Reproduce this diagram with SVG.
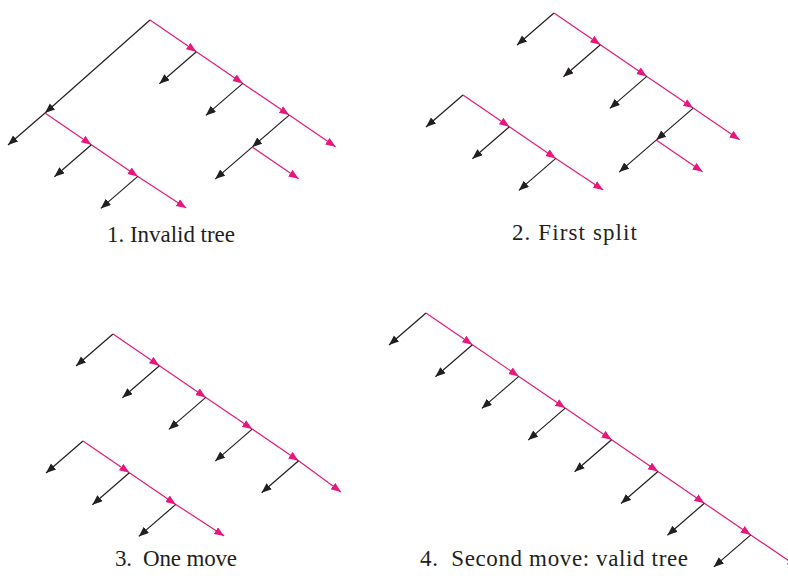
<svg xmlns="http://www.w3.org/2000/svg" width="788" height="576" viewBox="0 0 788 576">
<defs>
<marker id="ak" markerUnits="userSpaceOnUse" markerWidth="12" markerHeight="10" refX="10" refY="4" orient="auto"><path d="M0,0 L10,4 L0,8 z" fill="#231F20"/></marker>
<marker id="ap" markerUnits="userSpaceOnUse" markerWidth="12" markerHeight="10" refX="10" refY="4" orient="auto"><path d="M0,0 L10,4 L0,8 z" fill="#E8177D"/></marker>
<style>
.k{stroke:#231F20;stroke-width:1.2;fill:none;marker-end:url(#ak)}
.p{stroke:#E8177D;stroke-width:1.2;fill:none;marker-end:url(#ap)}
.lbl{font-family:"Liberation Serif","Times New Roman",serif;font-size:23px;fill:#231F20;white-space:pre}
</style>
</defs>
<rect width="788" height="576" fill="#fff"/>
<g id="connectors">
<g id="panel1">
<line class="k" x1="150" y1="20" x2="45" y2="113"/>
<line class="p" x1="150" y1="20" x2="196.4" y2="51.7"/>
<line class="p" x1="196.4" y1="51.7" x2="242.8" y2="83.4"/>
<line class="p" x1="242.8" y1="83.4" x2="289.2" y2="115.1"/>
<line class="p" x1="289.2" y1="115.1" x2="335.6" y2="146.8"/>
<line class="k" x1="196.4" y1="51.7" x2="159.4" y2="83.7"/>
<line class="k" x1="242.8" y1="83.4" x2="205.8" y2="115.4"/>
<line class="k" x1="289.2" y1="115.1" x2="252.2" y2="147.1"/>
<line class="k" x1="252.2" y1="147.1" x2="215.2" y2="179.1"/>
<line class="p" x1="252.2" y1="147.1" x2="298.6" y2="178.8"/>
<line class="k" x1="45" y1="113" x2="8" y2="145"/>
<line class="p" x1="45" y1="113" x2="91.4" y2="144.7"/>
<line class="p" x1="91.4" y1="144.7" x2="137.8" y2="176.4"/>
<line class="p" x1="137.8" y1="176.4" x2="186.2" y2="208.1"/>
<line class="k" x1="91.4" y1="144.7" x2="54.4" y2="176.7"/>
<line class="k" x1="137.8" y1="176.4" x2="100.8" y2="208.4"/>
</g>
<g id="panel2">
<line class="k" x1="554" y1="13" x2="517" y2="45"/>
<line class="p" x1="554" y1="13" x2="600.4" y2="44.7"/>
<line class="p" x1="600.4" y1="44.7" x2="646.8" y2="76.4"/>
<line class="p" x1="646.8" y1="76.4" x2="693.2" y2="108.1"/>
<line class="p" x1="693.2" y1="108.1" x2="739.6" y2="139.8"/>
<line class="k" x1="600.4" y1="44.7" x2="563.4" y2="76.7"/>
<line class="k" x1="646.8" y1="76.4" x2="609.8" y2="108.4"/>
<line class="k" x1="693.2" y1="108.1" x2="656.2" y2="140.1"/>
<line class="k" x1="656.2" y1="140.1" x2="619.2" y2="172.1"/>
<line class="p" x1="656.2" y1="140.1" x2="702.6" y2="171.8"/>
<line class="k" x1="463" y1="95" x2="426" y2="127"/>
<line class="p" x1="463" y1="95" x2="509.4" y2="126.7"/>
<line class="p" x1="509.4" y1="126.7" x2="555.8" y2="158.4"/>
<line class="p" x1="555.8" y1="158.4" x2="603.2" y2="190.1"/>
<line class="k" x1="509.4" y1="126.7" x2="472.4" y2="158.7"/>
<line class="k" x1="555.8" y1="158.4" x2="518.8" y2="190.4"/>
</g>
<g id="panel3">
<line class="k" x1="113" y1="334" x2="76" y2="366"/>
<line class="p" x1="113" y1="334" x2="159.4" y2="365.7"/>
<line class="p" x1="159.4" y1="365.7" x2="205.8" y2="397.4"/>
<line class="p" x1="205.8" y1="397.4" x2="252.2" y2="429.1"/>
<line class="p" x1="252.2" y1="429.1" x2="298.6" y2="460.8"/>
<line class="p" x1="298.6" y1="460.8" x2="341" y2="492"/>
<line class="k" x1="159.4" y1="365.7" x2="122.4" y2="397.7"/>
<line class="k" x1="205.8" y1="397.4" x2="168.8" y2="429.4"/>
<line class="k" x1="252.2" y1="429.1" x2="215.2" y2="461.1"/>
<line class="k" x1="298.6" y1="460.8" x2="261.6" y2="492.8"/>
<line class="k" x1="83" y1="441" x2="46" y2="473"/>
<line class="p" x1="83" y1="441" x2="129.4" y2="472.7"/>
<line class="p" x1="129.4" y1="472.7" x2="175.8" y2="504.4"/>
<line class="p" x1="175.8" y1="504.4" x2="224.2" y2="536.1"/>
<line class="k" x1="129.4" y1="472.7" x2="92.4" y2="504.7"/>
<line class="k" x1="175.8" y1="504.4" x2="138.8" y2="536.4"/>
</g>
<g id="panel4">
<line class="p" x1="426" y1="313" x2="472.4" y2="344.7"/>
<line class="p" x1="472.4" y1="344.7" x2="518.8" y2="376.4"/>
<line class="p" x1="518.8" y1="376.4" x2="565.2" y2="408.1"/>
<line class="p" x1="565.2" y1="408.1" x2="611.6" y2="439.8"/>
<line class="p" x1="611.6" y1="439.8" x2="658" y2="471.5"/>
<line class="p" x1="658" y1="471.5" x2="704.4" y2="503.2"/>
<line class="p" x1="704.4" y1="503.2" x2="750.8" y2="534.9"/>
<line class="p" x1="750.8" y1="534.9" x2="797.2" y2="566.6"/>
<line class="k" x1="426" y1="313" x2="389" y2="345"/>
<line class="k" x1="472.4" y1="344.7" x2="435.4" y2="376.7"/>
<line class="k" x1="518.8" y1="376.4" x2="481.8" y2="408.4"/>
<line class="k" x1="565.2" y1="408.1" x2="528.2" y2="440.1"/>
<line class="k" x1="611.6" y1="439.8" x2="574.6" y2="471.8"/>
<line class="k" x1="658" y1="471.5" x2="621" y2="503.5"/>
<line class="k" x1="704.4" y1="503.2" x2="667.4" y2="535.2"/>
<line class="k" x1="750.8" y1="534.9" x2="713.8" y2="566.9"/>
</g>
</g>
<g id="labels">
<text id="label1" class="lbl" x="107" y="242" textLength="128" lengthAdjust="spacing">1. Invalid tree</text>
<text id="label2" class="lbl" x="512" y="239.5" textLength="125" lengthAdjust="spacing">2. First split</text>
<text id="label3" class="lbl" x="115" y="566" textLength="122" lengthAdjust="spacing">3.  One move</text>
<text id="label4" class="lbl" x="420" y="566" textLength="268" lengthAdjust="spacing">4.  Second move: valid tree</text>
</g>
</svg>
